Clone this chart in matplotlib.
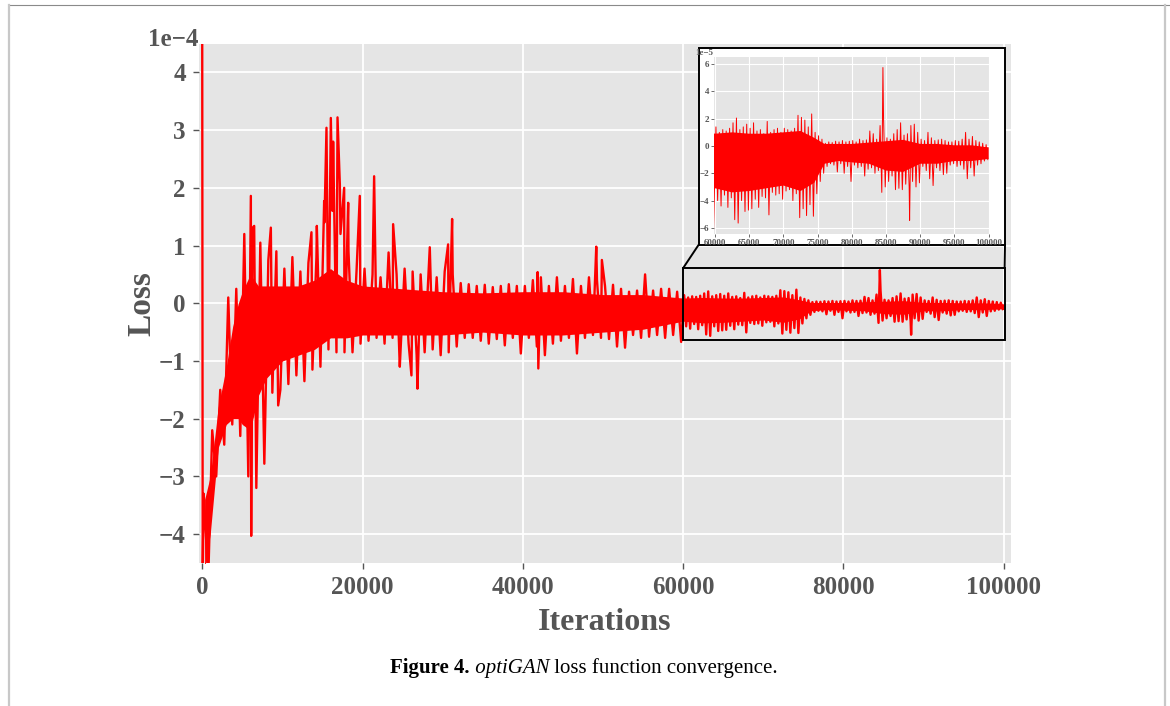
import numpy as np
import matplotlib
matplotlib.use("Agg")
import matplotlib.pyplot as plt
from matplotlib.patches import Rectangle, ConnectionPatch

# ---------------- data (loss in units of 1e-5) ----------------
# very first iterations of training
init_iter = [0, 60, 180]
init_loss = [48.0, -48.0, -33.0]

# 0 .. 60000, envelope of the loss per 1000-iteration bin
early_start = 0
early_step = 1000
early_hi = [-34.4, -22.0, -15.0, 1.0, 2.5, 12.0, 13.0, 10.5, 7.5, 9.0,
            6.0, 8.0, 5.5, 7.0, 8.0, 14.0, 16.0, 12.0, 9.0, 5.5,
            6.0, 5.0, 4.5, 8.8, 5.0, 6.0, 5.5, 5.0, 6.0, 4.5,
            5.5, 5.0, 3.5, 3.3, 3.0, 3.2, 2.8, 3.0, 3.3, 3.0,
            3.0, 4.0, 4.5, 3.0, 4.5, 3.0, 4.2, 3.0, 4.5, 4.0,
            3.0, 3.2, 2.5, 2.0, 2.2, 5.0, 2.2, 2.5, 2.5, 2.0]
early_lo = [-48.0, -30.0, -24.5, -21.0, -23.0, -30.0, -32.0, -27.8, -15.5, -15.0,
            -14.0, -12.5, -13.5, -11.5, -11.0, -8.0, -8.5, -8.5, -8.5, -7.0,
            -6.5, -6.0, -7.0, -6.0, -8.0, -7.0, -9.0, -8.5, -8.0, -9.0,
            -8.5, -7.5, -6.0, -6.0, -6.5, -7.0, -6.2, -7.3, -6.0, -8.7,
            -6.0, -7.5, -9.0, -7.0, -6.5, -6.0, -8.7, -6.0, -5.5, -6.0,
            -6.2, -7.5, -7.7, -5.5, -6.0, -5.8, -5.5, -6.0, -5.5, -6.7]

# 60000 .. 100000, envelope of the loss per 500-iteration bin (zoomed inset)
late_start = 60000
late_step = 500
late_hi = [1.4, 1.0, 1.2, 1.1, 1.3, 1.7, 2.05, 1.2, 1.4, 1.6,
           1.3, 1.7, 1.1, 1.2, 0.9, 1.8, 1.0, 1.2, 1.3, 1.0,
           1.3, 1.2, 1.1, 1.3, 2.25, 2.1, 1.9, 1.4, 2.35, 1.0,
           0.75, 0.5, 0.2, 0.3, 0.25, 0.35, 0.3, 0.4, 0.3, 0.35,
           0.4, 0.3, 0.5, 0.4, 0.45, 1.1, 0.9, 0.5, 1.5, 2.2,
           0.6, 0.5, 0.9, 1.2, 1.7, 0.8, 0.9, 1.5, 1.6, 1.0,
           0.5, 0.4, 1.0, 0.6, 0.4, 0.45, 0.5, 0.4, 0.3, 0.3,
           0.4, 0.35, 0.5, 1.0, 0.5, 0.7, 0.4, 0.3, 0.2, 0.1]
late_lo = [-4.0, -4.4, -3.6, -4.5, -3.8, -5.4, -5.65, -4.0, -4.8, -4.7,
           -4.6, -3.9, -4.5, -3.7, -3.8, -5.05, -3.4, -3.6, -3.5, -3.9,
           -3.3, -3.2, -4.0, -3.5, -5.25, -4.6, -5.1, -4.3, -5.15, -3.5,
           -2.6, -2.0, -1.5, -1.3, -1.4, -1.9, -1.3, -2.0, -1.5, -2.6,
           -1.4, -1.6, -1.5, -2.2, -1.7, -1.6, -2.0, -1.8, -3.4, -3.0,
           -2.6, -2.2, -3.2, -3.1, -3.2, -2.8, -3.0, -2.6, -3.0, -2.7,
           -1.5, -1.8, -2.4, -2.9, -1.6, -1.8, -2.1, -2.0, -1.4, -1.3,
           -1.5, -1.4, -1.7, -2.4, -1.6, -2.2, -1.4, -1.3, -1.1, -1.0]

# isolated spikes
spike_iter = [6068, 6110, 6484, 8562, 9477, 13630, 14300, 15213, 15504, 16046,
              16335, 16880, 17170, 17710, 18210, 19660, 21448, 23818, 24650, 26103,
              26853, 28390, 30677, 31176, 41845, 41930, 49160, 49860, 84540, 88440]
spike_loss = [18.6, -40.3, 13.4, 13.1, -17.7, 12.3, 13.4, 17.7, 30.4, 32.1,
              28.0, 32.2, 20.6, 20.0, 17.4, 18.6, 22.0, 13.7, -11.0, -12.5,
              -14.8, 9.7, 10.2, 14.6, 5.4, -11.3, 9.8, 7.5, 5.75, -5.45]

# dense core of the noisy band
core_iter = [300, 1000, 2000, 3000, 3800, 4500, 5000, 6000, 7000, 8000, 10000,
             12000, 14000, 16000, 18000, 20000, 25000, 30000, 35000, 40000, 45000,
             50000, 55000, 60000, 62500, 65000, 67500, 70000, 72500, 74500, 76000,
             78000, 80000, 82500, 85000, 87500, 90000, 92500, 95000, 97500, 100000]
core_hi = [-34, -30, -18, -11, -4, 0, 2, 5, 3, 3, 3,
           3, 4, 6, 4, 3, 2.5, 2, 1.8, 2, 2,
           1.5, 1.5, 0.9, 1.0, 0.9, 0.9, 1.0, 1.1, 0.6, 0.15,
           0.15, 0.15, 0.25, 0.35, 0.45, 0.15, 0.15, 0.05, 0.05, -0.1]
core_lo = [-46, -40, -25, -21, -20, -20, -21, -22, -16, -13, -10,
           -9, -8, -6, -6, -5.5, -5.5, -5.5, -5, -5.5, -5.5,
           -5, -4.5, -3.1, -3.4, -3.3, -3.1, -2.9, -3.3, -2.7, -1.3,
           -1.1, -1.2, -1.3, -1.8, -1.9, -1.3, -1.3, -1.1, -1.1, -0.95]

UNIT = 1e-5
x_ticks = [0, 20000, 40000, 60000, 80000, 100000]
y_ticks = [-4e-4, -3e-4, -2e-4, -1e-4, 0, 1e-4, 2e-4, 3e-4, 4e-4]
inset_x_ticks = [60000, 65000, 70000, 75000, 80000, 85000, 90000, 95000, 100000]
inset_y_ticks = [-6e-5, -4e-5, -2e-5, 0, 2e-5, 4e-5, 6e-5]

# ---------------- build the series ----------------
xs, ys = list(init_iter), list(init_loss)
for k, (h, l) in enumerate(zip(early_hi, early_lo)):
    s = early_start + k * early_step
    xs += [s + 0.25 * early_step, s + 0.75 * early_step]
    ys += [h, l]
for k, (h, l) in enumerate(zip(late_hi, late_lo)):
    s = late_start + k * late_step
    xs += [s + 0.25 * late_step, s + 0.75 * late_step]
    ys += [h, l]
xs += spike_iter
ys += spike_loss
xs = np.array(xs, dtype=float)
ys = np.array(ys, dtype=float) * UNIT
order = np.argsort(xs, kind="stable")
xs, ys = xs[order], ys[order]
c_x = np.array(core_iter, float)
c_hi = np.array(core_hi) * UNIT
c_lo = np.array(core_lo) * UNIT

# ---------------- figure ----------------
W, H = 1170, 706
fig = plt.figure(figsize=(W / 100, H / 100), dpi=100)
fig.patch.set_facecolor("white")

SERIF = ["Liberation Serif", "DejaVu Serif"]
GRAY = "#555555"
RED = "#ff0000"
BG = "#e5e5e5"

def px_box(x0, y0, x1, y1):
    return [x0 / W, 1 - y1 / H, (x1 - x0) / W, (y1 - y0) / H]

ax = fig.add_axes(px_box(199, 43.5, 1011, 563))
ax.set_facecolor(BG)
for s in ax.spines.values():
    s.set_visible(False)
ax.grid(True, color="white", lw=1.3)
ax.set_axisbelow(True)
ax.fill_between(c_x, c_lo, c_hi, color=RED, lw=0, zorder=2)
ax.plot(xs, ys, color=RED, lw=1.7, zorder=3)
ax.set_xlim(-400, 100900)
ax.set_ylim(-4.5e-4, 4.5e-4)
ax.set_xticks(x_ticks)
ax.set_yticks(y_ticks)
ax.ticklabel_format(axis="y", style="sci", scilimits=(0, 0))
ax.tick_params(axis="both", direction="out", length=4.5, width=1, color=GRAY,
               labelcolor=GRAY, labelsize=18, pad=5)
for lab in ax.get_xticklabels() + ax.get_yticklabels():
    lab.set_fontfamily(SERIF)
    lab.set_fontweight("bold")
ot = ax.yaxis.get_offset_text()
ot.set_fontfamily(SERIF); ot.set_fontweight("bold"); ot.set_fontsize(18)
ot.set_color(GRAY); ot.set_horizontalalignment("right"); ot.set_verticalalignment("center")
ax.set_xlabel("Iterations", family=SERIF, weight="bold", size=23, color=GRAY, labelpad=6)
ax.set_ylabel("Loss", family=SERIF, weight="bold", size=24, color=GRAY, labelpad=1)

# zoom rectangle on main axes
ax.add_patch(Rectangle((60000, -6.3e-5), 40100, 12.4e-5, fill=False, ec="black",
                       lw=1.4, zorder=6))

# inset frame
fx0, fy0, fx1, fy1 = 698.5, 48.5, 1005, 245
frame = Rectangle((fx0 / W, 1 - fy1 / H), (fx1 - fx0) / W, (fy1 - fy0) / H,
                  transform=fig.transFigure, fc="white", ec="black", lw=1.4, zorder=2)
fig.add_artist(frame)
for xa, xb in ((60000, fx0), (100100, fx1)):
    cp = ConnectionPatch(xyA=(xa, 6.1e-5), coordsA=ax.transData,
                         xyB=(xb / W, 1 - fy1 / H), coordsB=fig.transFigure,
                         color="black", lw=1.4, zorder=2)
    fig.add_artist(cp)

ins = fig.add_axes(px_box(713.7, 57.3, 989.7, 234))
ins.set_zorder(3)
ins.set_facecolor(BG)
for s in ins.spines.values():
    s.set_visible(False)
ins.grid(True, color="white", lw=0.8)
ins.set_axisbelow(True)
ins.fill_between(c_x, c_lo, c_hi, color=RED, lw=0, zorder=2)
ins.plot(xs, ys, color=RED, lw=0.7, zorder=3)
ins.set_xlim(59800, 100150)
ins.set_ylim(-6.45e-5, 6.5e-5)
ins.set_xticks(inset_x_ticks)
ins.set_yticks(inset_y_ticks)
ins.ticklabel_format(axis="y", style="sci", scilimits=(0, 0))
ins.tick_params(axis="both", direction="out", length=2, width=0.6, color=GRAY,
                labelcolor=GRAY, labelsize=6.5, pad=1.5)
for lab in ins.get_xticklabels() + ins.get_yticklabels():
    lab.set_fontfamily(SERIF)
    lab.set_fontweight("bold")
ot2 = ins.yaxis.get_offset_text()
ot2.set_fontfamily(SERIF); ot2.set_fontweight("bold"); ot2.set_fontsize(6.5)
ot2.set_color(GRAY); ot2.set_horizontalalignment("right"); ot2.set_verticalalignment("center")

# page border lines
fig.add_artist(plt.Line2D([10 / W, 1], [1 - 4.5 / H] * 2, transform=fig.transFigure,
                          color="#8a8a8a", lw=0.8))
fig.add_artist(plt.Line2D([9 / W] * 2, [0, 1 - 4.5 / H], transform=fig.transFigure,
                          color="#c8c8c8", lw=1.6))
fig.add_artist(plt.Line2D([1165 / W] * 2, [0, 1 - 4.5 / H], transform=fig.transFigure,
                          color="#c8c8c8", lw=1.6))

# caption
cap_y = 1 - 673 / H
parts = [("Figure 4.", "bold", "normal"), (" optiGAN", "normal", "italic"),
         (" loss function convergence.", "normal", "normal")]
texts = [fig.text(0, cap_y, t, family=SERIF, weight=w, style=st, size=15,
                  color="black", va="baseline", ha="left") for t, w, st in parts]
fig.canvas.draw()
r = fig.canvas.get_renderer()
widths = [t.get_window_extent(r).width for t in texts]
x = 584 - sum(widths) / 2
for t, wdt in zip(texts, widths):
    t.set_x(x / W)
    x += wdt

fig.savefig("out.png", dpi=100, facecolor="white")
